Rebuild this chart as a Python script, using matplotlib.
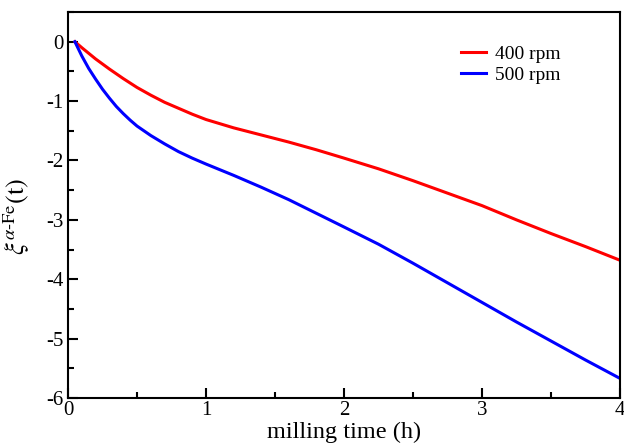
import matplotlib
matplotlib.use("Agg")
import matplotlib.pyplot as plt
from matplotlib.ticker import MultipleLocator

plt.rcParams['font.family'] = ['Liberation Serif', 'DejaVu Serif']
plt.rcParams['mathtext.fontset'] = 'stix'
plt.rcParams['axes.unicode_minus'] = False

time_400 = [0.05, 0.1, 0.2, 0.3, 0.4, 0.5, 0.6, 0.7, 0.8, 0.9, 1.0, 1.2, 1.4, 1.6,
            1.8, 2.0, 2.25, 2.5, 2.75, 3.0, 3.25, 3.5, 3.75, 4.0]
xi_400 = [0.0, -0.10, -0.29, -0.46, -0.62, -0.77, -0.90, -1.02, -1.12, -1.22, -1.31,
          -1.45, -1.57, -1.69, -1.82, -1.96, -2.14, -2.34, -2.55, -2.76, -3.00,
          -3.23, -3.45, -3.68]
time_500 = [0.05, 0.1, 0.15, 0.2, 0.25, 0.3, 0.35, 0.4, 0.45, 0.5, 0.6, 0.7, 0.8, 0.9,
            1.0, 1.2, 1.4, 1.6, 1.8, 2.0, 2.25, 2.5, 2.75, 3.0, 3.25, 3.5, 3.75, 4.0]
xi_500 = [0.0, -0.24, -0.45, -0.63, -0.80, -0.95, -1.09, -1.21, -1.32, -1.42, -1.58,
          -1.72, -1.85, -1.96, -2.06, -2.25, -2.45, -2.66, -2.89, -3.12, -3.41,
          -3.73, -4.06, -4.39, -4.72, -5.04, -5.36, -5.67]
labels = ['400 rpm', '500 rpm']

fig = plt.figure(figsize=(6.24, 4.46), dpi=100)
ax = fig.add_axes([0.109, 0.1076, 0.8846, 0.8654])
ax.plot(time_400, xi_400, color='#ff0000', lw=2.2, label=labels[0])
ax.plot(time_500, xi_500, color='#0000ff', lw=2.2, label=labels[1])

ax.set_xlim(0, 4)
ax.set_ylim(-6, 0.5)
ax.xaxis.set_major_locator(MultipleLocator(1))
ax.xaxis.set_minor_locator(MultipleLocator(0.5))
ax.yaxis.set_major_locator(MultipleLocator(1))
ax.yaxis.set_minor_locator(MultipleLocator(0.5))
ax.tick_params(which='both', direction='in', top=False, right=False, width=1.5,
               labelsize=15)
ax.tick_params(which='major', length=7.5)
ax.tick_params(which='minor', length=4)
ax.tick_params(axis='x', pad=2)
ax.tick_params(axis='y', pad=3)
for s in ax.spines.values():
    s.set_linewidth(1.5)

ax.set_xlabel('milling time (h)', fontsize=17.5)
ax.xaxis.set_label_coords(0.5, -0.062)
ax.set_ylabel(r'$\xi^{\alpha\mathrm{\text{-}Fe}}\mathrm{(t)}$', fontsize=19)
ax.yaxis.set_label_coords(-0.065, 0.47)

ax.legend(loc='upper right', bbox_to_anchor=(0.925, 0.96), frameon=False, fontsize=14,
          handlelength=1.25, handletextpad=0.5, labelspacing=0.2)

fig.savefig('out.png', dpi=100)
